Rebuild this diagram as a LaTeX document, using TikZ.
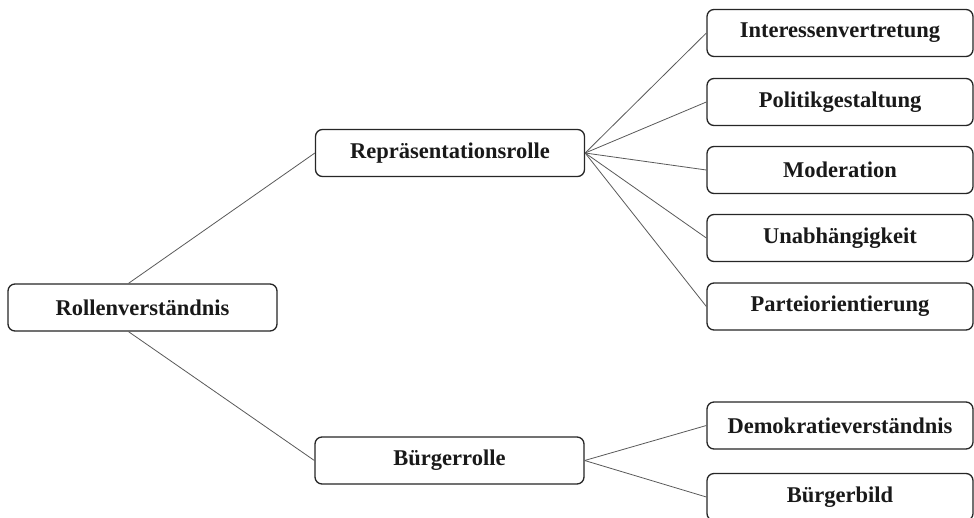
\documentclass[tikz,border=0pt]{standalone}
\usepackage{fontspec}
\setmainfont{Liberation Serif}
\begin{document}
\begin{tikzpicture}[x=1pt,y=-1pt,
  box/.style={draw=black!85,line width=1.3pt,rounded corners=7pt,fill=white,
    minimum height=47pt,inner sep=0pt,font=\fontsize{22.5}{26}\selectfont\bfseries,text=black!90},
  lbox/.style={box,minimum width=269pt},
  rbox/.style={box,minimum width=266pt},
  conn/.style={draw=black!65,line width=0.8pt}]
\path[use as bounding box] (0,0) rectangle (974,517);
\clip (0,0) rectangle (974,517);
\node[lbox] (r) at (142.5,307.5) {Rollenverständnis};
\node[lbox] (rep) at (450,153) {Repräsentationsrolle};
\node[lbox] (bue) at (449.5,460.5) {Bürgerrolle};
\node[rbox] (i) at (840,33) {Interessenvertretung};
\node[rbox] (p) at (840,102) {Politikgestaltung};
\node[rbox] (m) at (840,170) {Moderation};
\node[rbox] (u) at (840,238) {Unabhängigkeit};
\node[rbox] (po) at (840,306.5) {Parteiorientierung};
\node[rbox] (d) at (840,425.5) {Demokratieverständnis};
\node[rbox] (b) at (840,497) {Bürgerbild};
\draw[conn] ([xshift=-14]r.north) -- (rep.west);
\draw[conn] ([xshift=-14]r.south) -- (bue.west);
\foreach \t in {i,p,m,u,po} \draw[conn] (rep.east) -- (\t.west);
\foreach \t in {d,b} \draw[conn] (bue.east) -- (\t.west);
\end{tikzpicture}
\end{document}
